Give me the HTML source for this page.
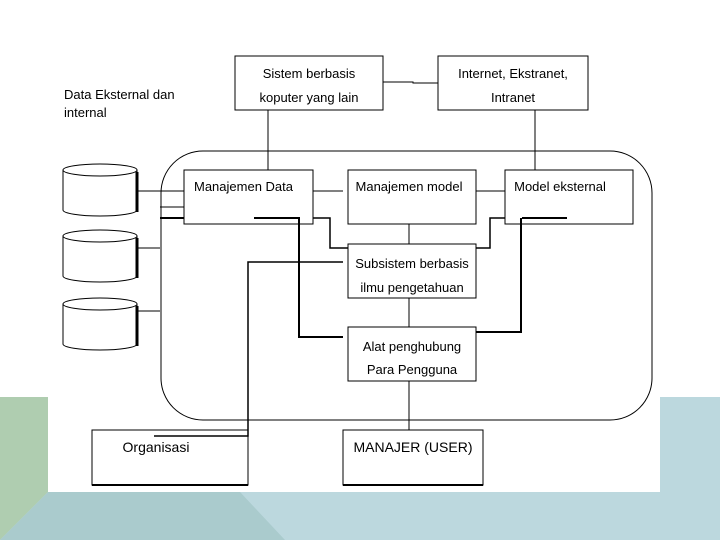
<!DOCTYPE html>
<html><head><style>
body{margin:0;width:720px;height:540px;overflow:hidden;background:#fff;font-family:"Liberation Sans",sans-serif}
</style></head><body>
<svg width="720" height="540" viewBox="0 0 720 540" xmlns="http://www.w3.org/2000/svg" font-family="Liberation Sans, sans-serif" font-size="13" fill="#000">
<rect x="0" y="397" width="48" height="143" fill="#afcdb0"/>
<rect x="660" y="397" width="60" height="143" fill="#bcd8de"/>
<polygon points="0,540 48,492 660,492 720,492 720,540" fill="#bcd8de"/>
<polygon points="0,540 48,492 240,492 285,540" fill="#aacbcd"/>
<rect x="48" y="0" width="612" height="492" fill="#fff"/>
<g stroke="#000" fill="none" stroke-width="1">
<rect x="161" y="151" width="491" height="269" rx="42"/>
<rect x="235" y="56" width="148" height="54" fill="#fff"/>
<rect x="438" y="56" width="150" height="54" fill="#fff"/>
<polyline points="383,82 413,82 413,83 438,83"/>
<line x1="268" y1="110" x2="268" y2="170"/>
<line x1="535" y1="110" x2="535" y2="170"/>
<rect x="184" y="170" width="129" height="54" fill="#fff"/>
<rect x="348" y="170" width="128" height="54" fill="#fff"/>
<rect x="505" y="170" width="128" height="54" fill="#fff"/>
<rect x="348" y="244" width="128" height="54" fill="#fff"/>
<rect x="348" y="327" width="128" height="54" fill="#fff"/>
<rect x="92" y="430" width="156" height="55" fill="#fff"/>
<rect x="343" y="430" width="140" height="55" fill="#fff"/>
<line x1="92" y1="485" x2="248" y2="485" stroke-width="2"/>
<line x1="343" y1="485" x2="483" y2="485" stroke-width="2"/>
<line x1="137" y1="191" x2="184" y2="191"/>
<line x1="137" y1="248" x2="160" y2="248"/>
<line x1="137" y1="311" x2="160" y2="311"/>
<line x1="160" y1="207" x2="184" y2="207"/>
<line x1="160" y1="218" x2="184" y2="218" stroke-width="2"/>
<line x1="313" y1="191" x2="343" y2="191"/>
<line x1="476" y1="191" x2="505" y2="191"/>
<line x1="409" y1="224" x2="409" y2="244"/>
<line x1="409" y1="298" x2="409" y2="327"/>
<line x1="409" y1="381" x2="409" y2="430"/>
<polyline points="254,218 299,218 299,337 343,337" stroke-width="2"/>
<polyline points="313,218 330,218 330,248 348,248" stroke-width="1.5"/>
<polyline points="476,248 490,248 490,218 505,218" stroke-width="1.5"/>
<polyline points="522,218 567,218" stroke-width="2"/>
<polyline points="521,218 521,332 476,332" stroke-width="2"/>
<polyline points="343,262 248,262 248,436 154,436" stroke-width="1.5"/>
</g>
<g stroke="#000" fill="#fff">
<g><path d="M63,170 v40 a37,6 0 0 0 74,0 v-40"/><path d="M137,172 v40" stroke-width="3"/><ellipse cx="100" cy="170" rx="37" ry="6"/></g>
<g><path d="M63,236 v40 a37,6 0 0 0 74,0 v-40"/><path d="M137,238 v40" stroke-width="3"/><ellipse cx="100" cy="236" rx="37" ry="6"/></g>
<g><path d="M63,304 v40 a37,6 0 0 0 74,0 v-40"/><path d="M137,306 v40" stroke-width="3"/><ellipse cx="100" cy="304" rx="37" ry="6"/></g>
</g>
<text x="64" y="99">Data Eksternal dan</text>
<text x="64" y="117">internal</text>
<g text-anchor="middle">
<text x="309" y="78">Sistem berbasis</text>
<text x="309" y="102">koputer yang lain</text>
<text x="513" y="78">Internet, Ekstranet,</text>
<text x="513" y="102">Intranet</text>
<text x="409" y="191">Manajemen model</text>
<text x="560" y="191">Model eksternal</text>
<text x="412" y="268">Subsistem berbasis</text>
<text x="412" y="292">ilmu pengetahuan</text>
<text x="412" y="351">Alat penghubung</text>
<text x="412" y="374">Para Pengguna</text>
<text x="156" y="452" font-size="14">Organisasi</text>
<text x="413" y="452" font-size="14">MANAJER (USER)</text>
</g>
<text x="194" y="191">Manajemen Data</text>
</svg>
</body></html>
